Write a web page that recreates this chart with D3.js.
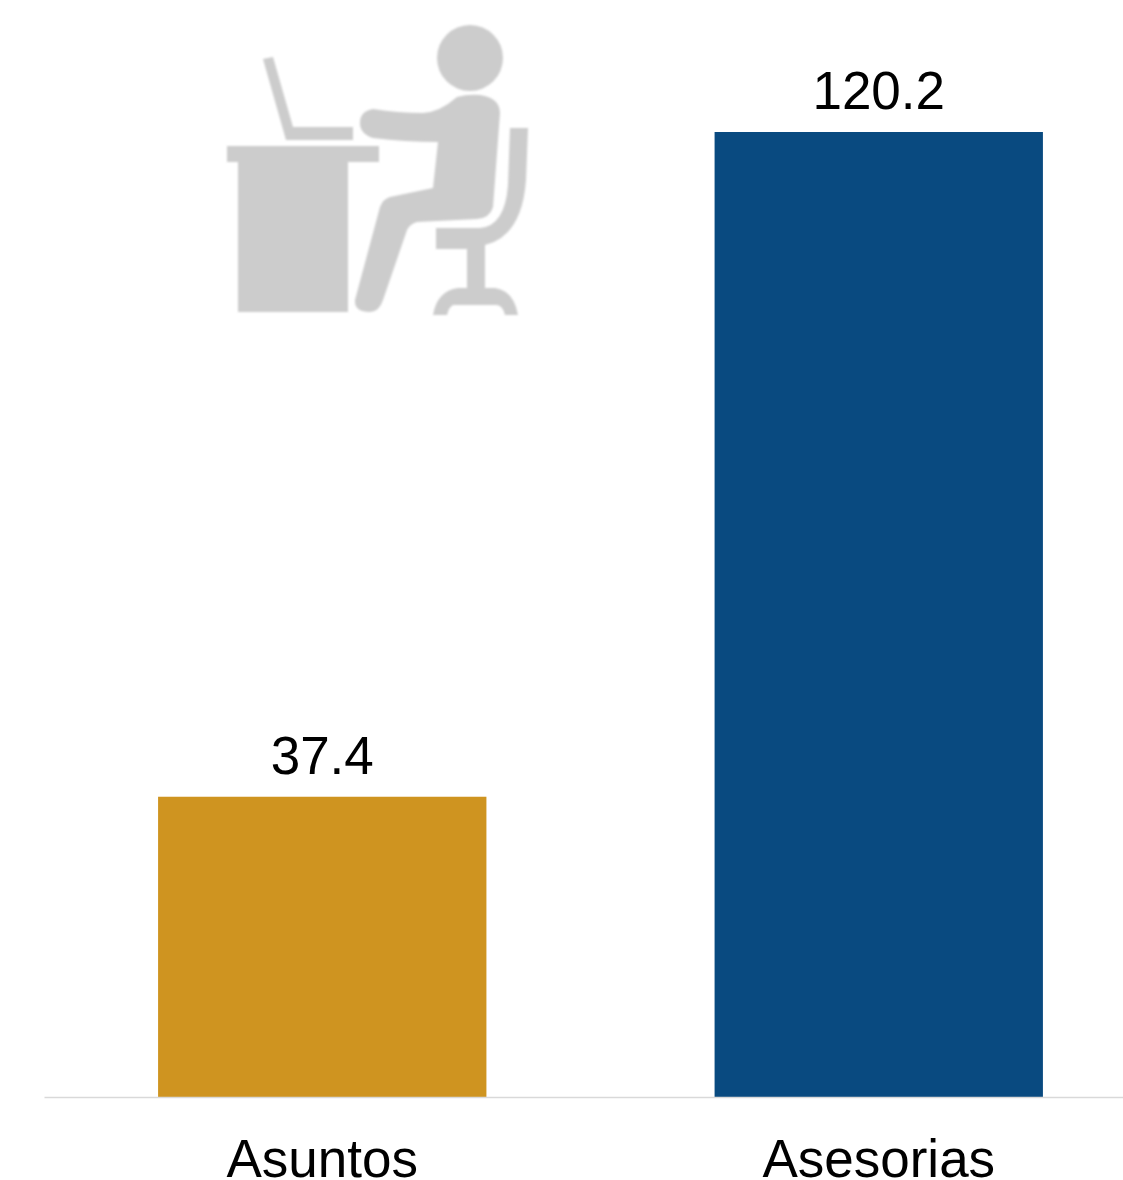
<!DOCTYPE html>
<html>
<head>
<meta charset="utf-8">
<script src="https://cdn.jsdelivr.net/npm/d3@7"></script>
<style>
  html, body { margin: 0; padding: 0; background: white; overflow: hidden; }
  text { font-family: "Liberation Sans", Arial, sans-serif; fill: black; }
</style>
</head>
<body>
<div id="container"></div>
<script>
let categories = ["Asuntos", "Asesorias"];
let values = [37.4, 120.2];
let barColors = ["#CF9420", "#094A80"];

let w = 1123;
let h = 1180;
let baseline = 1097;
let barTop = 132;

let viz = d3.select("#container")
  .append("svg")
    .attr("width", w)
    .attr("height", h)
    .style("display", "block")
;

let xScale = d3.scaleBand().domain(categories).range([44, 1157]).paddingInner(0.41).paddingOuter(0.205);
let yScale = d3.scaleLinear().domain([0, 120.2]).range([baseline, barTop]);

viz.selectAll(".bar").data(values).enter()
  .append("rect")
    .classed("bar", true)
    .attr("x", (d, i) => xScale(categories[i]))
    .attr("y", d => yScale(d))
    .attr("width", xScale.bandwidth())
    .attr("height", d => baseline - yScale(d))
    .attr("fill", (d, i) => barColors[i])
;

// value labels
viz.selectAll(".value").data(values).enter()
  .append("text")
    .classed("value", true)
    .text(d => d.toFixed(1))
    .attr("x", (d, i) => xScale(categories[i]) + xScale.bandwidth() / 2)
    .attr("y", d => yScale(d) - 23)
    .attr("text-anchor", "middle")
    .attr("font-size", 53)
;

// axis, no ticks
let xAxis = d3.axisBottom(xScale).tickSize(0).tickPadding(0);
let axisGroup = viz.append("g").attr("transform", "translate(0," + baseline + ")").call(xAxis);
axisGroup.attr("font-family", null).attr("font-size", null);
axisGroup.select(".domain").attr("stroke", "#D9D9D9").attr("stroke-width", 1.5);
axisGroup.selectAll("text")
  .attr("font-size", 53)
  .attr("dy", 0)
  .attr("y", 80)
  .attr("fill", "black");

// the icon is a soft pasted image in the original
viz.append("filter").attr("id", "soft")
  .append("feGaussianBlur").attr("stdDeviation", 0.8);

// desk + person icon
let icon = viz.append("g").attr("fill", "#CCCCCC").attr("filter", "url(#soft)");
icon.append("circle").attr("cx", 470).attr("cy", 58).attr("r", 33);
// laptop
icon.append("path").attr("d", "M263 59 L273 57 L293 127 L353 127 L353 140 L286 140 Z");
// desk
icon.append("path").attr("d", "M227 146 L379 146 L379 162 L348 162 L348 312 L238 312 L238 162 L227 162 Z");
// person
icon.append("path").attr("d", "M373 109 Q398 113 423 113 Q440 112 457 97 Q468 94 480 95 Q500 98 500 113 L493 207 Q490 218 477 219 L417 222 Q410 224 407 230 L383 300 Q379 312 370 312 Q354 312 355 300 L380 207 Q383 199 390 197 L433 188 L438 142 Q405 142 373 138 Q360 134 360 123 Q360 111 373 109 Z");
// chair
icon.append("path").attr("d", "M510 128 L528 128 L526 180 Q522 236 485 245 L485 288 L495 288 Q514 291 518 315 L505 315 Q503 306 497 305 L453 305 Q449 307 447 315 L433 315 Q437 291 458 288 L467 288 L467 249 L436 249 L436 228 L480 228 Q505 226 508 185 Z");
</script>
</body>
</html>
